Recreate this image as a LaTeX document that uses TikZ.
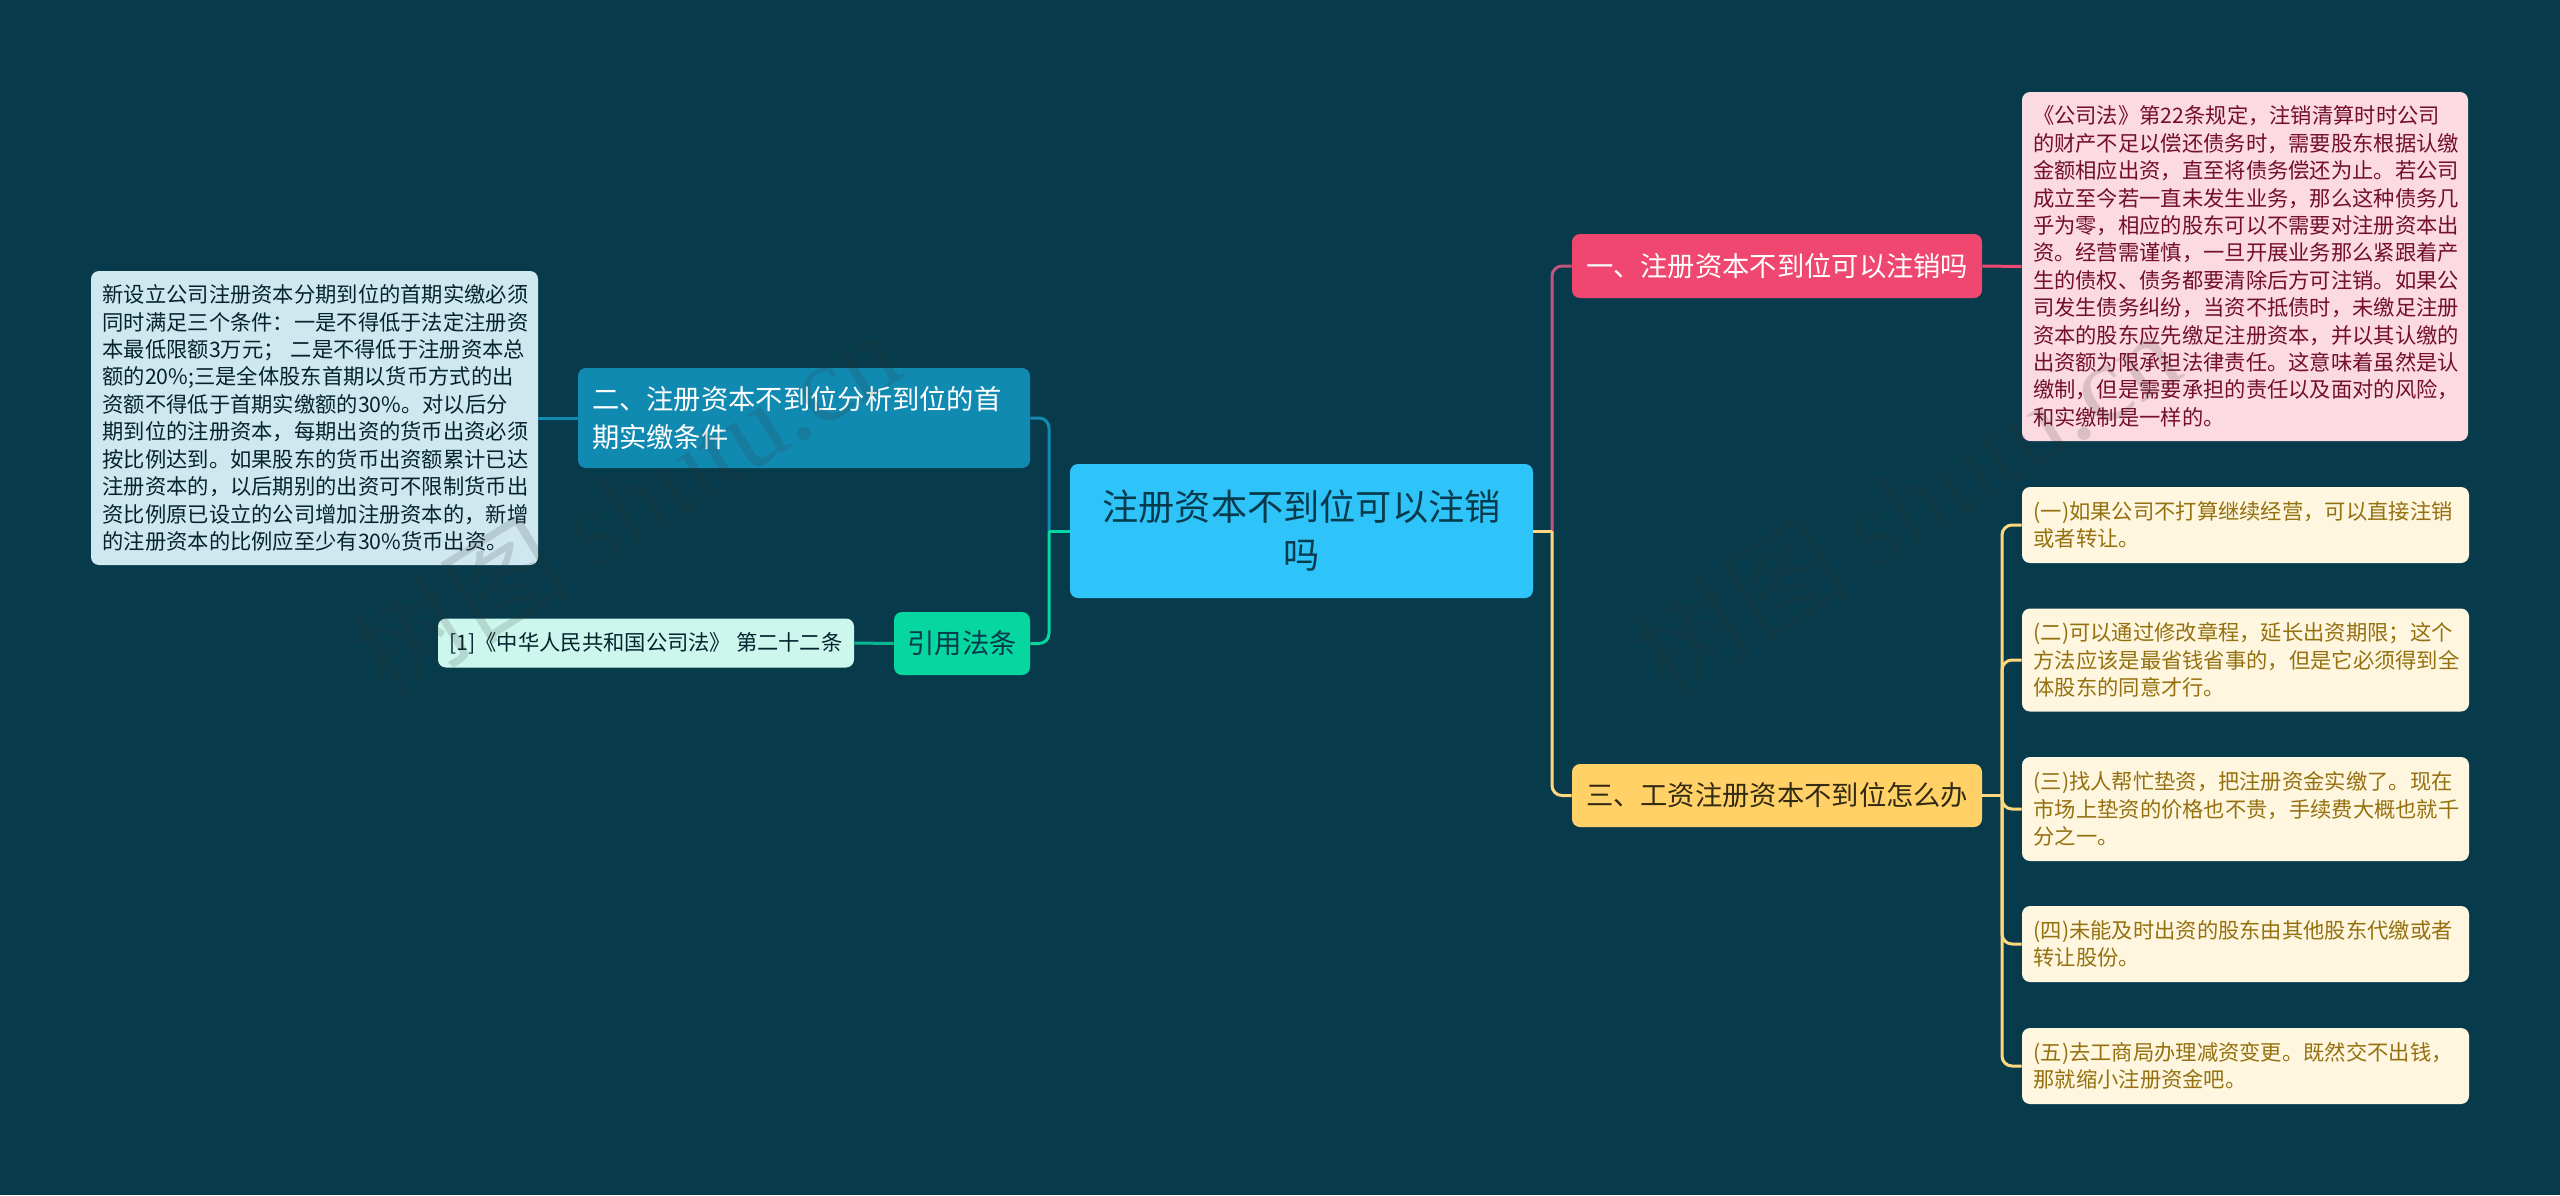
\documentclass[tikz,border=0pt]{standalone}
\usepackage{fontspec}
\usepackage{tikz}
\usetikzlibrary{calc}
\usetikzlibrary{positioning}
\setmainfont{Noto Sans CJK SC}
\newfontfamily\markfont{Liberation Serif}
\definecolor{bgc}{HTML}{073B4C}
\definecolor{rootc}{HTML}{2EC4F9}
\definecolor{pinkc}{HTML}{EF476F}
\definecolor{bluec}{HTML}{118AB2}
\definecolor{greenc}{HTML}{06D6A0}
\definecolor{yellowc}{HTML}{FFD166}
\definecolor{pinkl}{HTML}{FCDAE2}
\definecolor{bluel}{HTML}{CFE8F0}
\definecolor{greenl}{HTML}{CDF7EC}
\definecolor{yellowl}{HTML}{FFF6DF}
\definecolor{pinkt}{HTML}{730F2B}
\definecolor{yellowt}{HTML}{94700F}
\definecolor{markc}{HTML}{323232}

\begin{document}
\begin{tikzpicture}[x=0.5pt, y=-0.5pt,
    box/.style={rectangle, rounded corners=4pt, inner xsep=0pt, inner ysep=0pt, align=left},
    small/.style={box, font=\fontsize{10.65}{13.7}\selectfont, text width=212pt},
    big/.style={box, font=\fontsize{13.65}{19}\selectfont},
    link/.style={line width=1.5pt, rounded corners=5pt},
    mark text/.style={rotate=32, anchor=base west, text=markc, text opacity=0.16, font=\fontsize{55}{55}\selectfont}]
            \fill[bgc] (0, 0) rectangle (2560, 1195);

            \node[box, fill=rootc, text=bgc, align=center, minimum width=231.5pt, minimum height=67pt, font=\fontsize{18.1}{24}\selectfont] (root) at (1301.5, 531) {注册资本不到位可以注销\\吗};

            \node[big, fill=pinkc, text=white, minimum width=205pt, minimum height=32pt, text width=191pt] (one) at (1777, 266) {一、注册资本不到位可以注销吗};
            \node[big, fill=yellowc, text=black!80!yellowc, minimum width=205pt, minimum height=31.5pt, text width=191pt] (three) at (1777, 795.5) {三、工资注册资本不到位怎么办};
            \node[big, fill=bluec, text=white, minimum width=226pt, minimum height=50pt, text width=212pt] (two) at (804, 418) {二、注册资本不到位分析到位的首\\期实缴条件};
            \node[big, fill=greenc, text=bgc, align=center, minimum width=68pt, minimum height=31.5pt] (law) at (962, 643.5) {引用法条};

            \node[small, fill=pinkl, text=pinkt, minimum width=223pt, minimum height=174.5pt] (onetext) at (2245, 266.5) {《公司法》第22条规定，注销清算时时公司\\的财产不足以偿还债务时，需要股东根据认缴\\金额相应出资，直至将债务偿还为止。若公司\\成立至今若一直未发生业务，那么这种债务几\\乎为零，相应的股东可以不需要对注册资本出\\资。经营需谨慎，一旦开展业务那么紧跟着产\\生的债权、债务都要清除后方可注销。如果公\\司发生债务纠纷，当资不抵债时，未缴足注册\\资本的股东应先缴足注册资本，并以其认缴的\\出资额为限承担法律责任。这意味着虽然是认\\缴制，但是需要承担的责任以及面对的风险，\\和实缴制是一样的。};
            \node[small, fill=bluel, text=bgc!60!black, minimum width=223.5pt, minimum height=147pt] (twotext) at (314.5, 418) {新设立公司注册资本分期到位的首期实缴必须\\同时满足三个条件：一是不得低于法定注册资\\本最低限额3万元；\kern3pt 二是不得低于注册资本总\\额的20\%;三是全体股东首期以货币方式的出\\资额不得低于首期实缴额的30\%。对以后分\\期到位的注册资本，每期出资的货币出资必须\\按比例达到。如果股东的货币出资额累计已达\\注册资本的，以后期别的出资可不限制货币出\\资比例原已设立的公司增加注册资本的，新增\\的注册资本的比例应至少有30\%货币出资。};
            \node[box, fill=greenl, text=bgc!60!black, align=center, minimum width=208pt, minimum height=24.5pt, font=\fontsize{10.65}{13.7}\selectfont] (lawtext) at (646, 643) {[1]《中华人民共和国公司法》 第二十二条};

            \coordinate (rootL) at (1049, 531);
            \coordinate (rootR) at (1552, 531);
            \coordinate (threeR) at (2002, 795.5);

            \draw[link, bluec] (rootL) |- (two.east);
            \draw[link, greenc] (rootL) |- (law.east);
            \draw[link, greenc] (root.west) -- (rootL);
            \draw[link, pinkc!80!bluec] (rootR) |- (one.west);
            \draw[link, yellowc!85!white] (rootR) |- (three.west);
            \draw[link, yellowc!85!white] (root.east) -- (rootR);
            \draw[link, pinkc] (one.east) -- (onetext.west);
            \draw[link, bluec] (two.west) -- (twotext.east);
            \draw[link, greenc!80!bgc] (law.west) -- (lawtext.east);
            \draw[link, yellowc!85!white] (three.east) -- (threeR);

            \foreach \t/\y/\h[count=\i from 1] in {
                {(一)如果公司不打算继续经营，可以直接注销\\或者转让。}/525/38,
                {(二)可以通过修改章程，延长出资期限；这个\\方法应该是最省钱省事的，但是它必须得到全\\体股东的同意才行。}/660/51.5,
                {(三)找人帮忙垫资，把注册资金实缴了。现在\\市场上垫资的价格也不贵，手续费大概也就千\\分之一。}/809/52,
                {(四)未能及时出资的股东由其他股东代缴或者\\转让股份。}/944/38,
                {(五)去工商局办理减资变更。既然交不出钱，\\那就缩小注册资金吧。}/1066/38}
            {
                \node[small, fill=yellowl, text=yellowt, minimum width=223.5pt, minimum height=\h pt] (leaf\i) at (2245.5, \y) {\t};
                \draw[link, yellowc!85!white] (threeR) |- (leaf\i.west);
            }

            \node[mark text] (markL) at (380, 705) {树图 {\markfont shutu.cn}};
            \node[mark text] (markR) at (1660, 705) {树图 {\markfont shutu.cn}};
        \end{tikzpicture}
\end{document}
